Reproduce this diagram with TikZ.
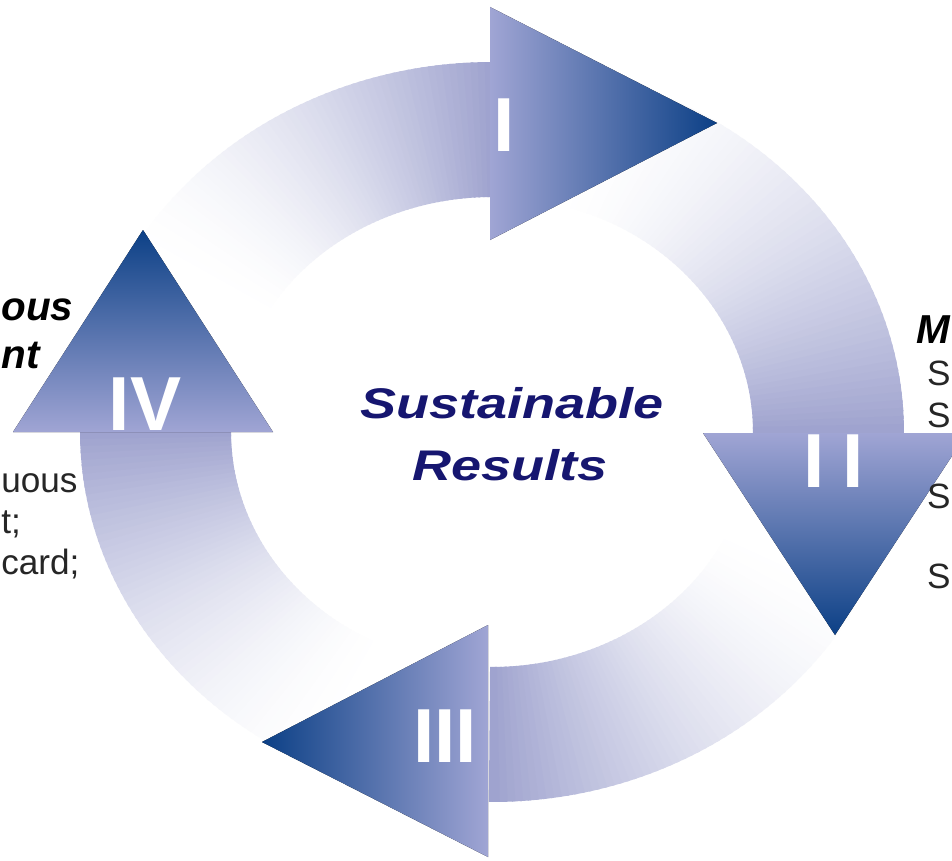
\documentclass[tikz,border=0pt]{standalone}
\usepackage{graphicx}
\usepackage{fontspec}
\newfontfamily\arialf{Liberation Sans}
\definecolor{lav}{RGB}{160,165,212}
\definecolor{shaftc}{RGB}{158,162,206}
\definecolor{lavmid}{RGB}{112,130,188}
\definecolor{tipblue}{RGB}{12,64,134}
\definecolor{navytext}{RGB}{22,22,112}
\tikzset{
  numeral/.style={font=\arialf\bfseries\fontsize{43.6}{44}\selectfont, text=white, inner sep=0pt},
  heading/.style={font=\arialf\bfseries\itshape\fontsize{23}{25}\selectfont, text=black, inner sep=0pt},
  bodytext/.style={font=\arialf\fontsize{20}{22}\selectfont, text=black!85, inner sep=0pt},
  centertext/.style={font=\arialf\bfseries\itshape\fontsize{24.4}{26}\selectfont, text=navytext, inner sep=0pt},
}
% ring band from tail angle #1 to head angle #2, fading from white to shaftc
\newcommand\shaftband[2]{%
  \foreach \k in {0,...,59}{%
    \pgfmathsetmacro\aa{#1+(#2-#1)*\k/60}%
    \pgfmathsetmacro\ab{#1+(#2-#1)*(\k+1.4)/60}%
    \pgfmathsetmacro\mm{100*((\k+0.5)/60)^1.7}%
    \fill[shaftc!\mm!white, shift={(492,428)}]
      (\aa:412 and 370) -- (\ab:412 and 370) -- (\ab:261 and 235) -- (\aa:261 and 235) -- cycle;
  }%
}
\begin{document}
\begin{tikzpicture}[x=0.02cm, y=0.02cm]
\useasboundingbox (0,0) rectangle (952,860);
\fill[white] (0,0) rectangle (952,860);
\clip (0,0) rectangle (952,860);

% shafts
\shaftband{150}{90}
\shaftband{75}{0}
\shaftband{-25}{-90}
\shaftband{245}{180}

% heads
\fill[left color=lav, middle color=lavmid, right color=tipblue]
  (490,853) -- (717,737) -- (490,620) -- cycle;
\fill[top color=lav, middle color=lavmid, bottom color=tipblue]
  (703,427) -- (967,427) -- (835,225) -- cycle;
\fill[left color=tipblue, middle color=lavmid, right color=lav]
  (488,235) -- (262,118) -- (488,3) -- cycle;
\fill[top color=tipblue, middle color=lavmid, bottom color=lav]
  (13,428) -- (143,630) -- (273,428) -- cycle;

% numerals
\node[numeral, anchor=base] (n1) at (504,708) {I};
\node[numeral, anchor=base] (n2) at (834,373) {I\kern0.23em I};
\node[numeral, anchor=base] (n3) at (445,98) {III};
\node[numeral, anchor=base] (n4) at (145,430) {IV};

% centre
\node[centertext, anchor=base] (sus) at (512,442) {\scalebox{1.26}[1]{Sustainable}};
\node[centertext, anchor=base] (res) at (510,380) {\scalebox{1.26}[1]{Results}};

% left texts
\node[heading, anchor=base west] (l1) at (1,540) {ous};
\node[heading, anchor=base west] (l2) at (1,492) {nt};
\node[bodytext, anchor=base west] (l3) at (1,368) {uous};
\node[bodytext, anchor=base west] (l4) at (1,327) {t;};
\node[bodytext, anchor=base west] (l5) at (1,286) {card;};

% right texts
\node[heading, anchor=base east] (r1) at (950,517) {M};
\node[bodytext, anchor=base east] (r2) at (951,475) {S};
\node[bodytext, anchor=base east] (r3) at (951,433) {S};
\node[bodytext, anchor=base east] (r4) at (951,352) {S};
\node[bodytext, anchor=base east] (r5) at (951,272) {S};
\end{tikzpicture}
\end{document}
